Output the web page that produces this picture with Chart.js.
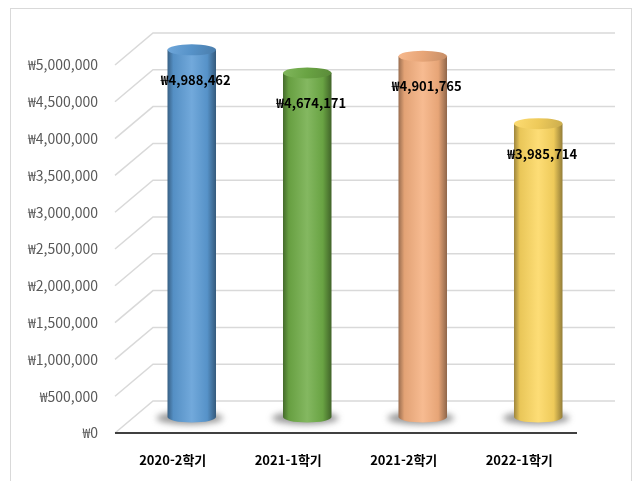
<!DOCTYPE html>
<html lang="ko">
<head>
<meta charset="utf-8">
<script src="https://cdn.jsdelivr.net/npm/chart.js@4/dist/chart.umd.min.js"></script>
<style>
  html, body { margin: 0; padding: 0; background: #fff; }
  #grafico { display: block; }
</style>
</head>
<body>
<canvas id="grafico" width="636" height="481"></canvas>
<script>
// Dados do gráfico
const semestres = ['2020-2학기', '2021-1학기', '2021-2학기', '2022-1학기'];
const valores = [4988462, 4674171, 4901765, 3985714];
const cores = ['#5b9bd5', '#70ad47', '#f6b07f', '#fdd760'];
const eixoMax = 5000000;
const eixoPasso = 500000;

const FONTE = '"Noto Sans CJK KR", "Noto Sans", sans-serif';
// deslocamento da parede do fundo (efeito 3D)
const PROF_X = 38;
const PROF_Y = -32;

const won = (v) => '₩' + Number(v).toLocaleString('en-US');

// clareia (t > 0) ou escurece (t < 0) uma cor hex
function tom(hex, t) {
  const n = parseInt(hex.slice(1), 16);
  let r = (n >> 16) & 255, g = (n >> 8) & 255, b = n & 255;
  const alvo = t < 0 ? 0 : 255;
  const k = Math.abs(t);
  r = Math.round(r + (alvo - r) * k);
  g = Math.round(g + (alvo - g) * k);
  b = Math.round(b + (alvo - b) * k);
  return `rgb(${r},${g},${b})`;
}

function cilindro(ctx, cx, topo, base, largura, cor) {
  const rx = largura / 2, ry = 5.5;
  const esq = cx - rx;

  // sombra no chão
  ctx.save();
  ctx.filter = 'blur(3px)';
  ctx.fillStyle = 'rgba(70,70,70,0.55)';
  ctx.beginPath();
  ctx.ellipse(cx - 2, base + 1, rx + 9, ry + 1, 0, 0, Math.PI * 2);
  ctx.fill();
  ctx.restore();

  // corpo
  const grad = ctx.createLinearGradient(esq, 0, esq + largura, 0);
  grad.addColorStop(0, tom(cor, -0.38));
  grad.addColorStop(0.12, tom(cor, -0.08));
  grad.addColorStop(0.5, tom(cor, 0.14));
  grad.addColorStop(0.82, tom(cor, -0.06));
  grad.addColorStop(1, tom(cor, -0.42));
  ctx.fillStyle = grad;
  ctx.beginPath();
  ctx.moveTo(esq, topo);
  ctx.lineTo(esq, base);
  ctx.ellipse(cx, base, rx, ry, 0, Math.PI, 0, true);
  ctx.lineTo(esq + largura, topo);
  ctx.closePath();
  ctx.fill();

  // tampa
  const gTampa = ctx.createLinearGradient(esq, topo - ry, esq + largura, topo + ry);
  gTampa.addColorStop(0, tom(cor, 0.12));
  gTampa.addColorStop(0.5, tom(cor, -0.06));
  gTampa.addColorStop(1, tom(cor, -0.2));
  ctx.fillStyle = gTampa;
  ctx.beginPath();
  ctx.ellipse(cx, topo, rx, ry, 0, 0, Math.PI * 2);
  ctx.fill();
}

const cilindros3d = {
  id: 'cilindros3d',
  beforeDraw(chart) {
    const ctx = chart.ctx;
    ctx.save();
    ctx.fillStyle = '#fff';
    ctx.fillRect(0, 0, chart.width, chart.height);
    ctx.strokeStyle = '#d9d9d9';
    ctx.lineWidth = 1;
    ctx.strokeRect(10.5, 8.5, 621, 500);
    ctx.restore();
  },
  beforeDatasetsDraw(chart) {
    const ctx = chart.ctx;
    const { left, right } = chart.chartArea;
    const y = chart.scales.y;

    // parede do fundo e chão
    ctx.save();
    ctx.strokeStyle = '#d9d9d9';
    ctx.lineWidth = 1.5;
    y.ticks.forEach((t) => {
      const py = y.getPixelForValue(t.value);
      ctx.beginPath();
      ctx.moveTo(left, py);
      ctx.lineTo(left + PROF_X, py + PROF_Y);
      ctx.lineTo(right + PROF_X, py + PROF_Y);
      ctx.stroke();
    });
    ctx.restore();

    // barras como cilindros, no meio da profundidade
    const meta = chart.getDatasetMeta(0);
    meta.data.forEach((bar, i) => {
      const p = bar.getProps(['x', 'y', 'base', 'width'], true);
      cilindro(ctx, p.x + PROF_X / 2, p.y + PROF_Y / 2, p.base + PROF_Y / 2, p.width, cores[i]);
    });

    // linha frontal do chão
    const y0 = y.getPixelForValue(0);
    ctx.save();
    ctx.strokeStyle = '#404040';
    ctx.lineWidth = 2;
    ctx.beginPath();
    ctx.moveTo(left, y0);
    ctx.lineTo(right, y0);
    ctx.stroke();
    ctx.restore();

    // rótulos de valor
    ctx.save();
    ctx.font = `bold 13px ${FONTE}`;
    ctx.fillStyle = '#000';
    ctx.textAlign = 'center';
    ctx.textBaseline = 'middle';
    meta.data.forEach((bar, i) => {
      const p = bar.getProps(['x', 'y'], true);
      ctx.fillText(won(valores[i]), p.x + PROF_X / 2 + 4, p.y + PROF_Y / 2 + 30);
    });
    ctx.restore();

    return false;
  }
};

function renderizarGrafico(canvasId = 'grafico') {
  const canvas = document.getElementById(canvasId);
  if (!canvas) return;
  const ctx = canvas.getContext('2d');

  const config = {
    type: 'bar',
    data: {
      labels: semestres,
      datasets: [{
        data: valores,
        backgroundColor: cores,
        barPercentage: 0.42,
        categoryPercentage: 1
      }]
    },
    options: {
      responsive: false,
      devicePixelRatio: 1,
      animation: false,
      layout: { padding: { top: 65, right: 59, left: 0, bottom: 0 } },
      scales: {
        x: {
          grid: { display: false, drawTicks: false },
          border: { display: false },
          ticks: {
            padding: 19,
            color: '#000',
            font: { family: FONTE, size: 13, weight: 'bold' }
          },
          afterFit: (s) => { s.height = 48; }
        },
        y: {
          min: 0,
          max: eixoMax,
          grid: { display: false, drawTicks: false },
          border: { display: false },
          ticks: {
            stepSize: eixoPasso,
            padding: 17,
            color: '#595959',
            font: { family: FONTE, size: 14 },
            callback: (v) => won(v)
          },
          afterFit: (s) => { s.width = 115; }
        }
      },
      plugins: {
        legend: { display: false },
        tooltip: { enabled: false }
      }
    },
    plugins: [cilindros3d]
  };

  window._grafico = new Chart(ctx, config);
}

renderizarGrafico();
</script>
</body>
</html>
